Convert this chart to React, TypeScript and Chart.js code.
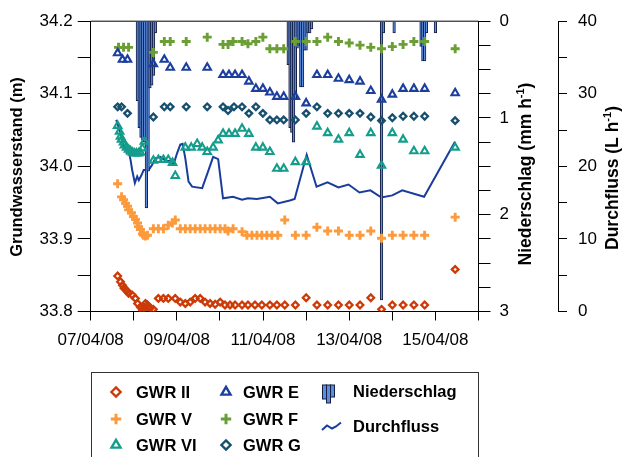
import React, { useEffect, useRef } from "react";
import { Chart, registerables } from "chart.js";

Chart.register(...registerables);

const FONT = "'Liberation Sans', Arial, Helvetica, sans-serif";

// x values are hours after 07/04/08 00:00
const dateLabels = ["07/04/08", "", "09/04/08", "", "11/04/08", "", "13/04/08", "", "15/04/08", ""];

const gwrII: [number, number][] = [
  [15, 33.849], [16.6, 33.841], [17.7, 33.836], [18.6, 33.832], [20, 33.829], [21.1, 33.825], [23, 33.823],
  [24.9, 33.818], [26.1, 33.811], [27.7, 33.806], [28.8, 33.802], [29.4, 33.806], [30.5, 33.811], [31.6, 33.809],
  [32.1, 33.806], [33.3, 33.805], [34.9, 33.803], [37.7, 33.818], [40.5, 33.818], [43.2, 33.818], [47.1, 33.818],
  [49.9, 33.813], [52.7, 33.811], [55.4, 33.813], [58.2, 33.818], [61, 33.818], [63.7, 33.813], [66.5, 33.811],
  [69.3, 33.81], [72.1, 33.813], [74.8, 33.809], [77.6, 33.809], [80.4, 33.809], [84.3, 33.809], [87.6, 33.809],
  [91.5, 33.809], [95.3, 33.809], [99.8, 33.809], [103.7, 33.809], [108.1, 33.809], [114, 33.809], [120, 33.819],
  [126, 33.809], [132, 33.809], [138, 33.809], [144, 33.809], [150, 33.809], [156, 33.819], [162, 33.803],
  [168, 33.809], [174, 33.809], [180, 33.809], [186, 33.809], [203, 33.858],
];

const gwrV: [number, number][] = [
  [15, 33.976], [17.2, 33.958], [18.3, 33.954], [19.4, 33.949], [20.5, 33.945], [21.1, 33.94], [22.7, 33.936],
  [23.8, 33.931], [24.9, 33.927], [26.1, 33.922], [26.6, 33.917], [27.7, 33.913], [28.8, 33.907], [29.4, 33.905],
  [30.5, 33.904], [31.6, 33.905], [34.9, 33.914], [37.7, 33.914], [40.5, 33.914], [43.2, 33.919], [45.5, 33.922],
  [47.1, 33.926], [49.9, 33.914], [52.7, 33.914], [55.4, 33.914], [58.2, 33.914], [61, 33.914], [63.7, 33.914],
  [66.5, 33.914], [69.3, 33.914], [72.1, 33.914], [74.8, 33.914], [76.5, 33.911], [79.3, 33.914], [84.3, 33.91],
  [87, 33.905], [89.8, 33.905], [92.6, 33.905], [95.3, 33.905], [98.1, 33.905], [100.9, 33.905], [104.2, 33.905],
  [108.1, 33.926], [114, 33.905], [120, 33.905], [126, 33.916], [132, 33.911], [138, 33.911], [144, 33.905],
  [150, 33.905], [156, 33.911], [162, 33.901], [168, 33.905], [174, 33.905], [180, 33.905], [186, 33.905],
  [203, 33.93],
];

const gwrVI: [number, number][] = [
  [15, 34.056], [16.1, 34.048], [16.6, 34.041], [17.2, 34.037], [18.3, 34.033], [18.8, 34.029], [20, 34.026],
  [21.1, 34.023], [22.2, 34.021], [23.3, 34.019], [24.4, 34.018], [25.5, 34.018], [26.6, 34.018], [27.7, 34.019],
  [28.8, 34.025], [29.9, 34.034], [34.9, 34.008], [37.7, 34.009], [40.5, 34.009], [43.2, 34.009], [45.6, 34.005],
  [47.1, 33.987], [52.7, 34.026], [56, 34.026], [59.3, 34.031], [62.1, 34.026], [64.9, 34.02], [68.2, 34.026],
  [71, 34.036], [73.7, 34.045], [77, 34.045], [80.4, 34.045], [84.3, 34.052], [88.1, 34.045], [92, 34.026],
  [95.9, 34.026], [99.8, 34.02], [103.7, 33.997], [107.5, 33.997], [114, 34.006], [120, 34.006], [126, 34.055],
  [132, 34.046], [138, 34.037], [144, 34.046], [150, 34.016], [156, 34.046], [162, 34.001], [168, 34.046],
  [174, 34.037], [180, 34.021], [186, 34.021], [203, 34.026],
];

const gwrE: [number, number][] = [
  [15, 34.156], [17.7, 34.147], [20.5, 34.147], [34.9, 34.141], [41, 34.147], [44.3, 34.136], [53.2, 34.136],
  [64.9, 34.136], [73.7, 34.126], [77, 34.126], [80.4, 34.126], [84.3, 34.126], [88.1, 34.117], [92, 34.107],
  [95.9, 34.107], [99.8, 34.102], [103.7, 34.096], [107.5, 34.096], [114, 34.096], [120, 34.087], [126, 34.126],
  [132, 34.126], [138, 34.121], [144, 34.119], [150, 34.117], [156, 34.104], [162, 34.092], [168, 34.099],
  [174, 34.107], [180, 34.107], [186, 34.107], [203, 34.101],
];

const gwrF: [number, number][] = [
  [15.5, 34.164], [18.3, 34.164], [21.1, 34.164], [34.9, 34.157], [41, 34.172], [44.3, 34.172], [53.2, 34.172],
  [64.9, 34.178], [73.7, 34.168], [76.5, 34.168], [79.3, 34.172], [84.3, 34.172], [87.6, 34.169], [92, 34.172],
  [95.9, 34.178], [99.8, 34.162], [103.7, 34.162], [107.5, 34.162], [114, 34.172], [120, 34.172], [126, 34.172],
  [132, 34.178], [138, 34.172], [144, 34.17], [150, 34.167], [156, 34.164], [162, 34.162], [168, 34.165],
  [174, 34.168], [180, 34.172], [186, 34.172], [203, 34.162],
];

const gwrG: [number, number][] = [
  [15, 34.082], [17.2, 34.082], [20.5, 34.073], [34.9, 34.068], [41, 34.082], [44.3, 34.082], [53.2, 34.082],
  [64.9, 34.082], [73.7, 34.082], [76.5, 34.077], [79.8, 34.082], [84.3, 34.082], [88.1, 34.073], [92, 34.082],
  [95.9, 34.073], [99.8, 34.064], [103.7, 34.064], [107.5, 34.064], [114, 34.064], [120, 34.073], [126, 34.082],
  [132, 34.073], [138, 34.073], [144, 34.073], [150, 34.073], [156, 34.068], [162, 34.063], [168, 34.067],
  [174, 34.069], [180, 34.069], [186, 34.069], [203, 34.063],
];

// Niederschlag (mm/h), hourly
const rainHours = [26, 27, 28, 29, 30, 31, 32, 33, 34, 35, 36, 110, 111, 112, 113, 114, 115, 116, 117, 118, 119,
  120, 121, 122, 123, 162, 163, 169, 184, 185, 186, 187, 192];
const rainValues = [0.82, 1.1, 1.2, 1.23, 1.25, 1.93, 1.55, 0.69, 0.66, 0.56, 0.12, 0.45, 1.1, 1.15, 1.25, 0.8,
  0.28, 0.25, 0.68, 0.68, 0.3, 0.3, 0.12, 0.12, 0.08, 2.88, 0.12, 0.12, 0.26, 0.41, 0.41, 0.12, 0.12];

// Durchfluss (L/h)
const flow: [number, number][] = [
  [14.2, 26.4], [15.7, 25.3], [17.2, 23.9], [18.5, 22.5], [19.4, 22.7], [20.3, 21.8], [21.2, 22.0], [22.2, 20.9],
  [23.1, 19.5], [24.6, 17.7], [25.9, 18.6], [26.8, 18.1], [28.3, 18.8], [29.5, 19.5], [32.3, 19.5], [34.2, 20.2],
  [36, 21.1], [38.8, 21.3], [41.6, 20.8], [44.3, 20.7], [46.2, 20.3], [48.1, 21.8], [49.9, 23.0], [51.2, 23.1],
  [52.7, 21.1], [54.5, 17.9], [56.5, 17.2], [62.1, 17.0], [65.4, 19.3], [68.2, 21.3], [71, 21.0], [73.7, 15.6],
  [79.3, 15.8], [84.3, 15.4], [87.6, 15.6], [92.6, 15.5], [99.8, 15.8], [104.2, 14.9], [110.9, 15.3],
  [113.6, 15.5], [120.3, 21.6], [125.8, 17.2], [131.9, 17.8], [138, 17.1], [143.6, 17.5], [149.7, 16.4],
  [155.8, 16.7], [161.9, 15.7], [168, 16.0], [173.5, 16.7], [185.7, 15.8], [202.9, 23.4],
];

const C_II = "#cc3a08";
const C_V = "#fc9a3c";
const C_VI = "#159d8c";
const C_E = "#1c3f9e";
const C_F = "#6b9e34";
const C_G = "#17506f";
const C_BAR = "#5c8ddf";
const C_BAR_EDGE = "#141f45";
const C_FLOW = "#1a3d9c";

const toXY = (pairs: [number, number][]) => pairs.map(([x, y]) => ({ x, y }));

function drawMarker(ctx: CanvasRenderingContext2D, kind: string, x: number, y: number, color: string) {
  ctx.save();
  ctx.strokeStyle = color;
  ctx.beginPath();
  if (kind === "diamond") {
    const r = 4.6;
    ctx.lineWidth = 2.4;
    ctx.moveTo(x - r, y);
    ctx.lineTo(x, y - r);
    ctx.lineTo(x + r, y);
    ctx.lineTo(x, y + r);
    ctx.closePath();
  } else if (kind === "plus") {
    const r = 5.2;
    ctx.lineWidth = 3;
    ctx.moveTo(x - r, y);
    ctx.lineTo(x + r, y);
    ctx.moveTo(x, y - r);
    ctx.lineTo(x, y + r);
  } else if (kind === "triangle") {
    const r = 5.2;
    ctx.lineWidth = 2.4;
    ctx.moveTo(x, y - r);
    ctx.lineTo(x + r * 0.866, y + r * 0.5);
    ctx.lineTo(x - r * 0.866, y + r * 0.5);
    ctx.closePath();
  }
  ctx.stroke();
  ctx.restore();
}

function drawVTitle(ctx: CanvasRenderingContext2D, cx: number, cy: number, main: string, sup: string, tail: string, size: number) {
  ctx.save();
  ctx.translate(cx, cy);
  ctx.rotate(-Math.PI / 2);
  const fMain = `bold ${size}px ${FONT}`;
  const fSup = `bold ${Math.round(size * 0.62)}px ${FONT}`;
  ctx.font = fMain;
  const w1 = ctx.measureText(main).width;
  const w3 = tail ? ctx.measureText(tail).width : 0;
  ctx.font = fSup;
  const w2 = sup ? ctx.measureText(sup).width : 0;
  const total = w1 + w2 + w3;
  let x = -total / 2;
  ctx.fillStyle = "#000";
  ctx.textBaseline = "middle";
  ctx.textAlign = "left";
  ctx.font = fMain;
  ctx.fillText(main, x, 0);
  x += w1;
  if (sup) {
    ctx.font = fSup;
    ctx.fillText(sup, x, -size * 0.3);
    x += w2;
  }
  if (tail) {
    ctx.font = fMain;
    ctx.fillText(tail, x, 0);
  }
  ctx.restore();
}

const decorPlugin = {
  id: "decor",
  afterDatasetsDraw(chart: any) {
    const { ctx, chartArea } = chart;
    ctx.save();
    ctx.strokeStyle = "#000";
    ctx.lineWidth = 1;
    ctx.beginPath();
    ctx.moveTo(chartArea.left, chartArea.top);
    ctx.lineTo(chartArea.right, chartArea.top);
    ctx.stroke();
    ctx.restore();
  },
  afterDraw(chart: any) {
    const ctx: CanvasRenderingContext2D = chart.ctx;
    // axis titles
    drawVTitle(ctx, 17, 167, "Grundwasserstand (m)", "", "", 16.5);
    drawVTitle(ctx, 526, 174, "Niederschlag (mm h", "-1", ")", 17.5);
    drawVTitle(ctx, 613, 178, "Durchfluss (L h", "-1", ")", 17.5);

    // legend box
    ctx.save();
    ctx.strokeStyle = "#333";
    ctx.lineWidth = 1;
    ctx.strokeRect(91.5, 372.5, 387, 100);
    const ds = chart.data.datasets;
    const colX = [116, 226];
    const textX = [136, 243];
    const rowY = [392, 419, 445];
    const kinds = ["diamond", "plus", "triangle", "triangle", "plus", "diamond"];
    ctx.font = `bold 16.5px ${FONT}`;
    ctx.textBaseline = "middle";
    ctx.textAlign = "left";
    for (let i = 0; i < 6; i++) {
      const col = Math.floor(i / 3);
      const row = i % 3;
      drawMarker(ctx, kinds[i], colX[col], rowY[row], ds[i].borderColor);
      ctx.fillStyle = "#000";
      ctx.fillText(ds[i].label, textX[col], rowY[row] + 1);
    }
    // Niederschlag icon
    const bars = [[322.5, 14], [326.5, 18], [330.5, 12]];
    for (const [bx, bh] of bars) {
      ctx.fillStyle = C_BAR;
      ctx.fillRect(bx, 385, 4, bh);
      ctx.strokeStyle = C_BAR_EDGE;
      ctx.lineWidth = 1;
      ctx.strokeRect(bx, 385, 4, bh);
    }
    ctx.fillStyle = "#000";
    ctx.fillText(ds[6].label, 353, 392);
    // Durchfluss icon
    ctx.strokeStyle = C_FLOW;
    ctx.lineWidth = 2;
    ctx.beginPath();
    ctx.moveTo(322, 430);
    ctx.lineTo(327, 425.5);
    ctx.lineTo(332, 428.5);
    ctx.lineTo(336, 426.5);
    ctx.lineTo(341, 422.5);
    ctx.stroke();
    ctx.fillStyle = "#000";
    ctx.fillText(ds[7].label, 353, 427);
    ctx.restore();
  },
};

const tickFont = { family: FONT, size: 17 };
const gridBase = { drawOnChartArea: false, drawTicks: true, color: "#000", tickColor: "#000", tickWidth: 1, offset: false };
const borderBase = { display: true, color: "#000", width: 1 };

export default function App() {
  const ref = useRef<HTMLCanvasElement>(null);
  useEffect(() => {
    const canvas = ref.current;
    if (!canvas) return;
    const pointDs = (label: string, pairs: [number, number][], color: string, style: string, radius: number, bw: number) => ({
      type: "line" as const,
      label,
      data: toXY(pairs),
      showLine: false,
      borderColor: color,
      backgroundColor: "rgba(0,0,0,0)",
      pointStyle: style,
      pointRadius: radius,
      pointBorderWidth: bw,
      pointBorderColor: color,
      pointBackgroundColor: "rgba(0,0,0,0)",
      yAxisID: "y",
      order: 1,
    });
    const chart = new Chart(canvas, {
      type: "line",
      data: {
        datasets: [
          pointDs("GWR II", gwrII, C_II, "rectRot", 3.3, 2.3),
          pointDs("GWR V", gwrV, C_V, "cross", 4.5, 2.9),
          pointDs("GWR VI", gwrVI, C_VI, "triangle", 4.3, 2.1),
          pointDs("GWR E", gwrE, C_E, "triangle", 4.3, 2.1),
          pointDs("GWR F", gwrF, C_F, "cross", 4.5, 2.9),
          pointDs("GWR G", gwrG, C_G, "rectRot", 3.3, 2.3),
          {
            type: "bar" as const,
            label: "Niederschlag",
            data: rainHours.map((h, i) => ({ x: h, y: rainValues[i] })),
            backgroundColor: C_BAR,
            borderColor: C_BAR_EDGE,
            borderWidth: 1,
            barThickness: 2.6,
            yAxisID: "yP",
            order: 5,
          },
          {
            type: "line" as const,
            label: "Durchfluss",
            data: toXY(flow),
            borderColor: C_FLOW,
            backgroundColor: C_FLOW,
            borderWidth: 2,
            pointRadius: 0,
            tension: 0,
            yAxisID: "yQ",
            order: 10,
          },
        ] as any,
      },
      options: {
        responsive: false,
        animation: false,
        devicePixelRatio: 1,
        events: [],
        layout: { padding: { top: 20.5, left: 0, right: 0, bottom: 0 } },
        plugins: { legend: { display: false }, tooltip: { enabled: false } },
        scales: {
          x: {
            type: "linear",
            position: "bottom",
            offset: false,
            min: 0,
            max: 216,
            afterFit: (s: any) => { s.height = 145.5; },
            grid: { ...gridBase, tickLength: 9 },
            border: borderBase,
            ticks: {
              stepSize: 24,
              autoSkip: false,
              maxRotation: 0,
              minRotation: 0,
              padding: 10,
              color: "#000",
              font: tickFont,
              callback: (v: any) => dateLabels[Math.round(Number(v) / 24)] ?? "",
            },
          },
          y: {
            type: "linear",
            position: "left",
            min: 33.8,
            max: 34.2,
            afterFit: (s: any) => { s.width = 90.7; },
            grid: { ...gridBase, tickLength: 13 },
            border: borderBase,
            ticks: {
              stepSize: 0.05,
              autoSkip: false,
              padding: 5,
              color: "#000",
              font: tickFont,
              callback: (v: any) => {
                const k = Math.round(Number(v) * 20);
                return k % 2 === 0 ? (k / 20).toFixed(1) : "";
              },
            },
          },
          yP: {
            type: "linear",
            position: "right",
            weight: 0,
            reverse: true,
            min: 0,
            max: 3,
            afterFit: (s: any) => { s.width = 79.5; },
            grid: { ...gridBase, tickLength: 12 },
            border: borderBase,
            ticks: {
              stepSize: 0.25,
              autoSkip: false,
              padding: 9,
              color: "#000",
              font: tickFont,
              callback: (v: any) => {
                const k = Math.round(Number(v) * 4);
                return k % 4 === 0 ? String(k / 4) : "";
              },
            },
          },
          yQ: {
            type: "linear",
            position: "right",
            weight: 1,
            min: 0,
            max: 40,
            afterFit: (s: any) => { s.width = 66; },
            grid: { ...gridBase, tickLength: 9 },
            border: borderBase,
            ticks: {
              stepSize: 5,
              autoSkip: false,
              padding: 11,
              color: "#000",
              font: tickFont,
              callback: (v: any) => {
                const n = Math.round(Number(v));
                return n % 10 === 0 ? String(n) : "";
              },
            },
          },
        },
      } as any,
      plugins: [decorPlugin],
    });
    return () => chart.destroy();
  }, []);
  return (
    <div style={{ position: "absolute", left: 0, top: 0, width: 624, height: 457, background: "#fff" }}>
      <canvas ref={ref} width={624} height={457} style={{ display: "block", width: 624, height: 457 }} />
    </div>
  );
}
